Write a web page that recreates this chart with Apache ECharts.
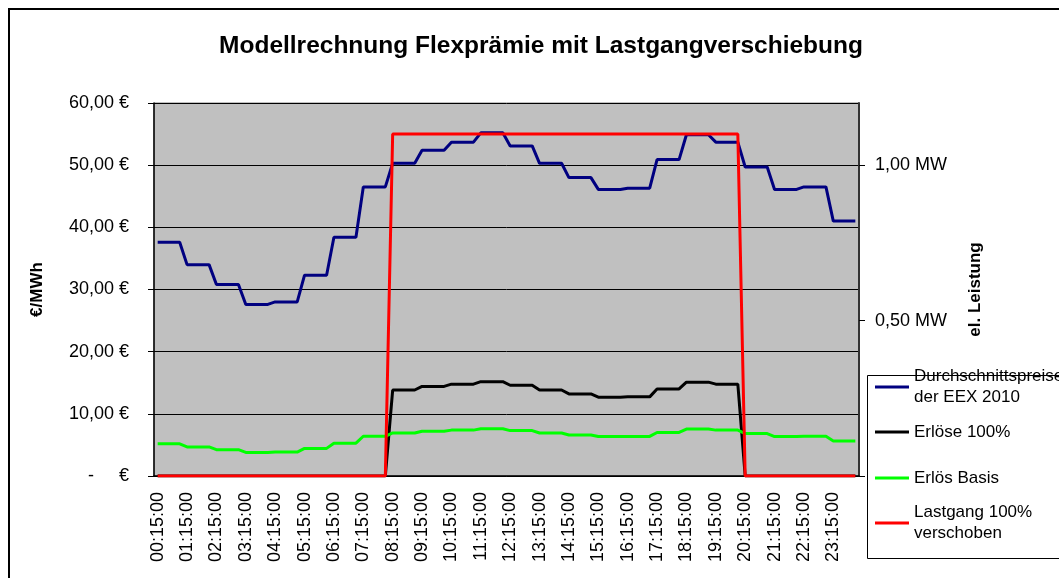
<!DOCTYPE html>
<html>
<head>
<meta charset="utf-8">
<script src="https://cdn.jsdelivr.net/npm/echarts@6/dist/echarts.min.js"></script>
<style>
  html, body { margin: 0; padding: 0; background: #fff; }
  #chart { width: 1059px; height: 578px; }
</style>
</head>
<body>
<div id="chart"></div>
<script>
// Modellrechnung Flexprämie mit Lastgangverschiebung
var myChart = echarts.init(document.getElementById('chart'));

// Viertelstunden-Kategorien 00:15:00 ... 24:00:00
var zeiten = [];
for (var i = 1; i <= 96; i++) {
    var m = i * 15;
    var hh = Math.floor(m / 60), mm = m % 60;
    zeiten.push((hh < 10 ? '0' : '') + hh + ':' + (mm < 10 ? '0' : '') + mm + ':00');
}

// Durchschnittspreise der EEX 2010 (€/MWh), 4 Werte je Stunde
var preise = [
    37.6, 37.6, 37.6, 37.6,  34.0, 34.0, 34.0, 34.0,  30.8, 30.8, 30.8, 30.8,
    27.6, 27.6, 27.6, 27.6,  28.0, 28.0, 28.0, 28.0,  32.3, 32.3, 32.3, 32.3,
    38.4, 38.4, 38.4, 38.4,  46.5, 46.5, 46.5, 46.5,  50.3, 50.3, 50.3, 50.3,
    52.4, 52.4, 52.4, 52.4,  53.7, 53.7, 53.7, 53.7,  55.2, 55.2, 55.2, 55.2,
    53.1, 53.1, 53.1, 53.1,  50.3, 50.3, 50.3, 50.3,  48.0, 48.0, 48.0, 48.0,
    46.1, 46.1, 46.1, 46.1,  46.3, 46.3, 46.3, 46.3,  50.9, 50.9, 50.9, 50.9,
    54.9, 54.9, 54.9, 54.9,  53.7, 53.7, 53.7, 53.7,  49.7, 49.7, 49.7, 49.7,
    46.1, 46.1, 46.1, 46.1,  46.5, 46.5, 46.5, 46.5,  41.0, 41.0, 41.0, 41.0
];

// Erlöse 100%
var erloese100 = [
    0, 0, 0, 0,  0, 0, 0, 0,  0, 0, 0, 0,
    0, 0, 0, 0,  0, 0, 0, 0,  0, 0, 0, 0,
    0, 0, 0, 0,  0, 0, 0, 0,  13.83, 13.83, 13.83, 13.83,
    14.41, 14.41, 14.41, 14.41,  14.77, 14.77, 14.77, 14.77,  15.18, 15.18, 15.18, 15.18,
    14.60, 14.60, 14.60, 14.60,  13.83, 13.83, 13.83, 13.83,  13.20, 13.20, 13.20, 13.20,
    12.68, 12.68, 12.68, 12.68,  12.73, 12.73, 12.73, 12.73,  14.00, 14.00, 14.00, 14.00,
    15.10, 15.10, 15.10, 15.10,  14.77, 14.77, 14.77, 14.77,  0, 0, 0, 0,
    0, 0, 0, 0,  0, 0, 0, 0,  0, 0, 0, 0
];

// Erlös Basis
var erloesBasis = [
    5.17, 5.17, 5.17, 5.17,  4.68, 4.68, 4.68, 4.68,  4.24, 4.24, 4.24, 4.24,
    3.80, 3.80, 3.80, 3.80,  3.85, 3.85, 3.85, 3.85,  4.44, 4.44, 4.44, 4.44,
    5.28, 5.28, 5.28, 5.28,  6.39, 6.39, 6.39, 6.39,  6.92, 6.92, 6.92, 6.92,
    7.21, 7.21, 7.21, 7.21,  7.38, 7.38, 7.38, 7.38,  7.59, 7.59, 7.59, 7.59,
    7.30, 7.30, 7.30, 7.30,  6.92, 6.92, 6.92, 6.92,  6.60, 6.60, 6.60, 6.60,
    6.34, 6.34, 6.34, 6.34,  6.37, 6.37, 6.37, 6.37,  7.00, 7.00, 7.00, 7.00,
    7.55, 7.55, 7.55, 7.55,  7.38, 7.38, 7.38, 7.38,  6.83, 6.83, 6.83, 6.83,
    6.34, 6.34, 6.34, 6.34,  6.39, 6.39, 6.39, 6.39,  5.64, 5.64, 5.64, 5.64
];

// Lastgang 100% verschoben (MW)
var lastgang = [
    0, 0, 0, 0,  0, 0, 0, 0,  0, 0, 0, 0,
    0, 0, 0, 0,  0, 0, 0, 0,  0, 0, 0, 0,
    0, 0, 0, 0,  0, 0, 0, 0,  1.1, 1.1, 1.1, 1.1,
    1.1, 1.1, 1.1, 1.1,  1.1, 1.1, 1.1, 1.1,  1.1, 1.1, 1.1, 1.1,
    1.1, 1.1, 1.1, 1.1,  1.1, 1.1, 1.1, 1.1,  1.1, 1.1, 1.1, 1.1,
    1.1, 1.1, 1.1, 1.1,  1.1, 1.1, 1.1, 1.1,  1.1, 1.1, 1.1, 1.1,
    1.1, 1.1, 1.1, 1.1,  1.1, 1.1, 1.1, 1.1,  0, 0, 0, 0,
    0, 0, 0, 0,  0, 0, 0, 0,  0, 0, 0, 0
];

var namen = ['Durchschnittspreise\nder EEX 2010', 'Erlöse 100%', 'Erlös Basis', 'Lastgang 100%\nverschoben'];
var farben = ['#000080', '#000000', '#00ff00', '#ff0000'];

var schrift = 'Arial, "Liberation Sans", sans-serif';

function legende(name, top, mehrzeilig) {
    return {
        orient: 'vertical',
        left: 875,
        top: top,
        padding: 0,
        icon: 'rect',
        itemWidth: 34,
        itemHeight: 3,
        selectedMode: false,
        data: [name],
        textStyle: {
            color: '#000',
            fontFamily: schrift,
            fontSize: 17,
            lineHeight: 21,
            padding: mehrzeilig ? [21, 0, 0, 0] : 0
        }
    };
}

option = {
    backgroundColor: '#fff',
    animation: false,

    title: {
        text: 'Modellrechnung Flexprämie mit Lastgangverschiebung',
        left: 536,
        textAlign: 'center',
        top: 29,
        textStyle: {
            color: '#000',
            fontFamily: schrift,
            fontWeight: 'bold',
            fontSize: 24.5
        }
    },

    legend: [
        legende(namen[0], 355.5, true),
        legende(namen[1], 421.5, false),
        legende(namen[2], 467.5, false),
        legende(namen[3], 491.5, true)
    ],

    graphic: [
        {
            type: 'rect',
            shape: { x: 9, y: 9, width: 1100, height: 620 },
            style: { fill: null, stroke: '#000', lineWidth: 2 },
            silent: true
        },
        {
            type: 'rect',
            shape: { x: 867.5, y: 375.5, width: 300, height: 183 },
            style: { fill: null, stroke: '#000', lineWidth: 1 },
            silent: true
        }
    ],

    grid: {
        left: 154,
        top: 103,
        right: 200,
        bottom: 102,
        show: true,
        backgroundColor: '#c0c0c0',
        borderColor: '#808080',
        borderWidth: 1
    },

    xAxis: {
        type: 'category',
        data: zeiten,
        boundaryGap: true,
        axisLine: { lineStyle: { color: '#000', width: 1.5 } },
        axisTick: { interval: 0, length: 5, lineStyle: { color: '#000' } },
        axisLabel: {
            interval: 3,
            rotate: 90,
            margin: 16,
            color: '#000',
            fontFamily: schrift,
            fontSize: 18
        },
        splitLine: { show: false }
    },

    yAxis: [
        {
            type: 'value',
            min: 0,
            max: 60,
            interval: 10,
            name: '€/MWh',
            nameLocation: 'middle',
            nameRotate: 90,
            nameGap: 108,
            nameTextStyle: { color: '#000', fontFamily: schrift, fontWeight: 'bold', fontSize: 17 },
            axisLine: { show: true, lineStyle: { color: '#000', width: 1.5 } },
            axisTick: { show: true, length: 6, lineStyle: { color: '#000' } },
            axisLabel: {
                margin: 25,
                color: '#000',
                fontFamily: schrift,
                fontSize: 18,
                formatter: function (v) {
                    if (v === 0) return '-     €';
                    return v.toFixed(2).replace('.', ',') + ' €';
                }
            },
            splitLine: { lineStyle: { color: '#000', width: 1 } }
        },
        {
            type: 'value',
            min: 0,
            max: 1.2,
            interval: 0.5,
            position: 'right',
            name: 'el. Leistung',
            nameLocation: 'middle',
            nameRotate: 90,
            nameGap: 108,
            nameTextStyle: { color: '#000', fontFamily: schrift, fontWeight: 'bold', fontSize: 17 },
            axisLine: { show: true, lineStyle: { color: '#333', width: 2 } },
            axisTick: { show: true, length: 6, customValues: [0, 0.5, 1.0], lineStyle: { color: '#000' } },
            axisLabel: {
                margin: 16,
                color: '#000',
                fontFamily: schrift,
                fontSize: 18,
                customValues: [0.5, 1.0],
                formatter: function (v) {
                    return v.toFixed(2).replace('.', ',') + ' MW';
                }
            },
            splitLine: { show: false }
        }
    ],

    series: [
        {
            name: namen[0], type: 'line', data: preise, yAxisIndex: 0,
            symbol: 'none', itemStyle: { color: farben[0] }, lineStyle: { color: farben[0], width: 3 }
        },
        {
            name: namen[1], type: 'line', data: erloese100, yAxisIndex: 0,
            symbol: 'none', itemStyle: { color: farben[1] }, lineStyle: { color: farben[1], width: 3 }
        },
        {
            name: namen[2], type: 'line', data: erloesBasis, yAxisIndex: 0,
            symbol: 'none', itemStyle: { color: farben[2] }, lineStyle: { color: farben[2], width: 3 }
        },
        {
            name: namen[3], type: 'line', data: lastgang, yAxisIndex: 1,
            symbol: 'none', itemStyle: { color: farben[3] }, lineStyle: { color: farben[3], width: 3 }
        }
    ]
};

myChart.setOption(option);
</script>
</body>
</html>
